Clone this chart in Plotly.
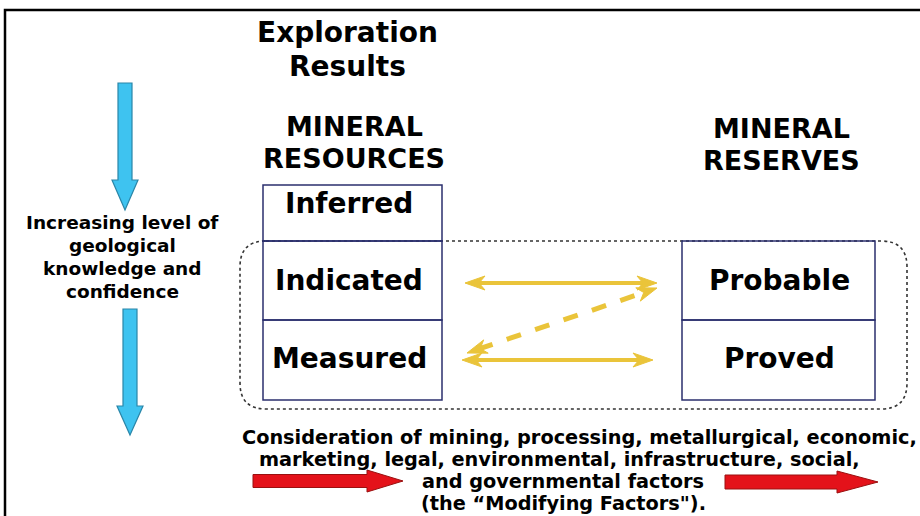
import plotly.graph_objects as go
import math

# ---- content ----
title_lines = ["Exploration", "Results"]
left_header = ["MINERAL", "RESOURCES"]
right_header = ["MINERAL", "RESERVES"]
resource_categories = ["Inferred", "Indicated", "Measured"]
reserve_categories = ["Probable", "Proved"]
side_text = ["Increasing level of", "geological", "knowledge and", "confidence"]
bottom_text = [
    "Consideration of mining, processing, metallurgical, economic,",
    "marketing, legal, environmental, infrastructure, social,",
    "and governmental factors",
    "(the \u201cModifying Factors\").",
]

FONT = "DejaVu Sans, Arial, sans-serif"
BOX = "#2B2F6E"
YEL = "#EAC43A"
BLUE = "#3EC3F0"
BLUE_EDGE = "#2A86A8"
RED = "#E4121A"
RED_EDGE = "#9A1010"

fig = go.Figure()
shapes = []
ann = []

def text(x, y, s, size, anchor="center"):
    ann.append(dict(x=x, y=y, text=s, showarrow=False, xanchor=anchor, yanchor="middle",
                    font=dict(family=FONT, size=size, color="#000000")))

# outer frame
shapes.append(dict(type="rect", x0=5, y0=10, x1=930, y1=540, line=dict(color="#000", width=2.5)))

# titles
for i, s in enumerate(title_lines):
    text(347, 32 + 34 * i, f"<b>{s}</b>", 28)
for i, s in enumerate(left_header):
    text(354, 126 + 32 * i, f"<b>{s}</b>", 27)
for i, s in enumerate(right_header):
    text(781, 128 + 32 * i, f"<b>{s}</b>", 27)

# dotted rounded rectangle
x0, x1, y0, y1, r = 240, 907, 241, 409, 26
path = (f"M {x0+r},{y0} L {x1-r},{y0} Q {x1},{y0} {x1},{y0+r} L {x1},{y1-r} "
        f"Q {x1},{y1} {x1-r},{y1} L {x0+r},{y1} Q {x0},{y1} {x0},{y1-r} "
        f"L {x0},{y0+r} Q {x0},{y0} {x0+r},{y0} Z")
shapes.append(dict(type="path", path=path, line=dict(color="#333", width=1.6, dash="dot")))

# resource boxes
res_edges = [185, 241, 320, 400]
for i, name in enumerate(resource_categories):
    shapes.append(dict(type="rect", x0=263, x1=442, y0=res_edges[i], y1=res_edges[i + 1],
                       line=dict(color=BOX, width=1.5), fillcolor="rgba(0,0,0,0)"))
label_y = [203, 280, 358]
for name, yy in zip(resource_categories, label_y):
    text(349, yy, f"<b>{name}</b>", 28)

rsv_edges = [241, 320, 400]
for i, name in enumerate(reserve_categories):
    shapes.append(dict(type="rect", x0=682, x1=875, y0=rsv_edges[i], y1=rsv_edges[i + 1],
                       line=dict(color=BOX, width=1.5)))
for name, yy in zip(reserve_categories, [280, 358]):
    text(779, yy, f"<b>{name}</b>", 28)

# side text
for i, s in enumerate(side_text):
    text(122, 222 + 23 * i, f"<b>{s}</b>", 18.5)

# bottom text
bx = [579, 559, 563, 563]
for i, s in enumerate(bottom_text):
    text(bx[i], 437 + 22 * i, f"<b>{s}</b>", 19.3)

# blue block arrows (pointing down)
def down_arrow(cx, ytop, yhead, ytip, sw, hw):
    p = (f"M {cx-sw},{ytop} L {cx+sw},{ytop} L {cx+sw},{yhead} L {cx+hw},{yhead} "
         f"L {cx},{ytip} L {cx-hw},{yhead} L {cx-sw},{yhead} Z")
    shapes.append(dict(type="path", path=p, fillcolor=BLUE, line=dict(color=BLUE_EDGE, width=1.2)))

down_arrow(125, 83, 180, 210, 7, 13)
down_arrow(130, 309, 406, 435, 7, 13)

# red block arrows (pointing right)
def right_arrow(xl, xhead, xtip, cy, sw, hw):
    p = (f"M {xl},{cy-sw} L {xhead},{cy-sw} L {xhead},{cy-hw} L {xtip},{cy} "
         f"L {xhead},{cy+hw} L {xhead},{cy+sw} L {xl},{cy+sw} Z")
    shapes.append(dict(type="path", path=p, fillcolor=RED, line=dict(color=RED_EDGE, width=1)))

right_arrow(253, 367, 403, 481, 6.5, 11)
right_arrow(725, 837, 878, 482, 7, 11)

# yellow double arrows
def head(xt, yt, xf, yf, L=20, W=7):
    d = math.hypot(xt - xf, yt - yf)
    ux, uy = (xt - xf) / d, (yt - yf) / d
    px, py = -uy, ux
    bx_, by_ = xt - ux * L, yt - uy * L
    mx, my = xt - ux * L * 0.7, yt - uy * L * 0.7
    p = (f"M {xt},{yt} L {bx_+px*W},{by_+py*W} L {mx},{my} L {bx_-px*W},{by_-py*W} Z")
    shapes.append(dict(type="path", path=p, fillcolor=YEL, line=dict(color=YEL, width=1)))

def dbl(xa, ya, xb, yb, dash="solid"):
    d = math.hypot(xb - xa, yb - ya)
    ux, uy = (xb - xa) / d, (yb - ya) / d
    shapes.append(dict(type="line", x0=xa + ux * 12, y0=ya + uy * 12, x1=xb - ux * 12, y1=yb - uy * 12,
                       line=dict(color=YEL, width=4 if dash == "solid" else 5, dash=dash)))
    head(xa, ya, xb, yb)
    head(xb, yb, xa, ya)

dbl(465, 283, 657, 283)
dbl(462, 360, 653, 360)
dbl(467, 353, 657, 288, dash="dash")

fig.update_layout(
    width=920, height=516,
    margin=dict(l=0, r=0, t=0, b=0),
    paper_bgcolor="white", plot_bgcolor="white",
    xaxis=dict(range=[0, 920], visible=False, fixedrange=True),
    yaxis=dict(range=[516, 0], visible=False, fixedrange=True),
    shapes=shapes, annotations=ann, showlegend=False,
)
fig.write_html("out.html", config={"displayModeBar": False},
               post_script="document.body.style.margin='0';document.body.style.overflow='hidden';")
